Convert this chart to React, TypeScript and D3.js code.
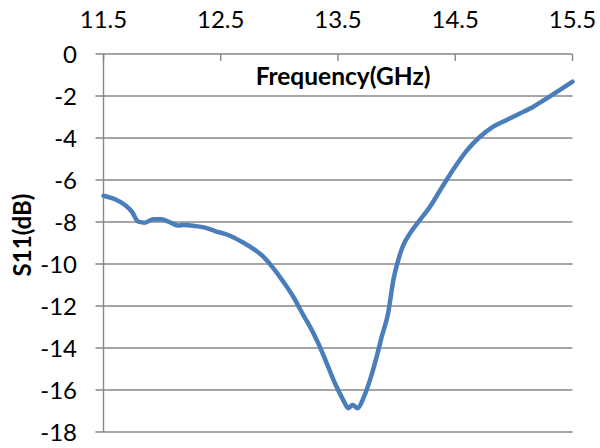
import React from "react";
import * as d3 from "d3";

const freqGHz = [
  11.5, 11.598, 11.683, 11.741, 11.797, 11.854, 11.925, 11.996, 12.053, 12.138,
  12.181, 12.28, 12.366, 12.451, 12.564, 12.679, 12.778, 12.863, 12.948, 13.033,
  13.119, 13.204, 13.261, 13.332, 13.404, 13.474, 13.545, 13.588, 13.625, 13.668,
  13.716, 13.773, 13.83, 13.873, 13.929, 13.972, 14.014, 14.057, 14.114, 14.199,
  14.285, 14.37, 14.483, 14.598, 14.711, 14.824, 14.939, 15.052, 15.166, 15.281,
  15.393, 15.5,
];
const s11dB = [
  -6.75, -6.92, -7.19, -7.5, -7.98, -8.03, -7.87, -7.87, -7.98, -8.17,
  -8.14, -8.19, -8.27, -8.43, -8.62, -8.94, -9.28, -9.65, -10.2, -10.84,
  -11.56, -12.43, -12.98, -13.78, -14.73, -15.68, -16.48, -16.87, -16.71, -16.87,
  -16.4, -15.52, -14.41, -13.46, -12.3, -10.76, -9.81, -9.1, -8.54, -7.9,
  -7.27, -6.5, -5.5, -4.6, -3.94, -3.46, -3.14, -2.83, -2.51, -2.11,
  -1.71, -1.32,
];
const xTicks = [11.5, 12.5, 13.5, 14.5, 15.5];
const yTicks = [0, -2, -4, -6, -8, -10, -12, -14, -16, -18];
const xTitle = "Frequency(GHz)";
const yTitle = "S11(dB)";

export default function App() {
  const left = 103.5, right = 572.5, top = 54, bottom = 432;
  const x = d3.scaleLinear().domain([11.5, 15.5]).range([left, right]);
  const y = d3.scaleLinear().domain([0, -18]).range([top, bottom]);
  const pts = freqGHz.map((f, i) => [f, s11dB[i]] as [number, number]);
  const line = d3
    .line<[number, number]>()
    .x((d) => x(d[0]))
    .y((d) => y(d[1]))
    .curve(d3.curveMonotoneX);
  const grid = "#878787";
  const font = "Lato, 'Open Sans', sans-serif";
  return (
    <svg
      width={600}
      height={448}
      style={{ position: "absolute", left: 0, top: 0, background: "#fff" }}
      fontFamily={font}
    >
      <rect width={600} height={448} fill="#fff" />
      {yTicks.map((t) => (
        <g key={t}>
          <line x1={left - 8} x2={right} y1={y(t)} y2={y(t)} stroke={grid} strokeWidth={1.4} />
          <text x={77} y={y(t) + 8.5} textAnchor="end" fontSize={24} fill="#000">
            {t === 0 ? "0" : "-" + Math.abs(t)}
          </text>
        </g>
      ))}
      <line x1={left} x2={left} y1={top} y2={bottom} stroke={grid} strokeWidth={1.4} />
      {xTicks.map((t) => (
        <g key={t}>
          <line x1={x(t)} x2={x(t)} y1={top} y2={top + 7} stroke={grid} strokeWidth={1.4} />
          <text x={x(t)} y={27.5} textAnchor="middle" fontSize={24} fill="#000">
            {t.toFixed(1)}
          </text>
        </g>
      ))}
      <text x={343} y={85} textAnchor="middle" fontSize={24.5} fontWeight="bold" fill="#000">
        {xTitle}
      </text>
      <text
        transform="translate(31,235) rotate(-90)"
        textAnchor="middle"
        fontSize={24}
        fontWeight="bold"
        fill="#000"
      >
        {yTitle}
      </text>
      <path d={line(pts) || ""} fill="none" stroke="#4a7ebb" strokeWidth={4.5} strokeLinejoin="round" strokeLinecap="round" />
    </svg>
  );
}
